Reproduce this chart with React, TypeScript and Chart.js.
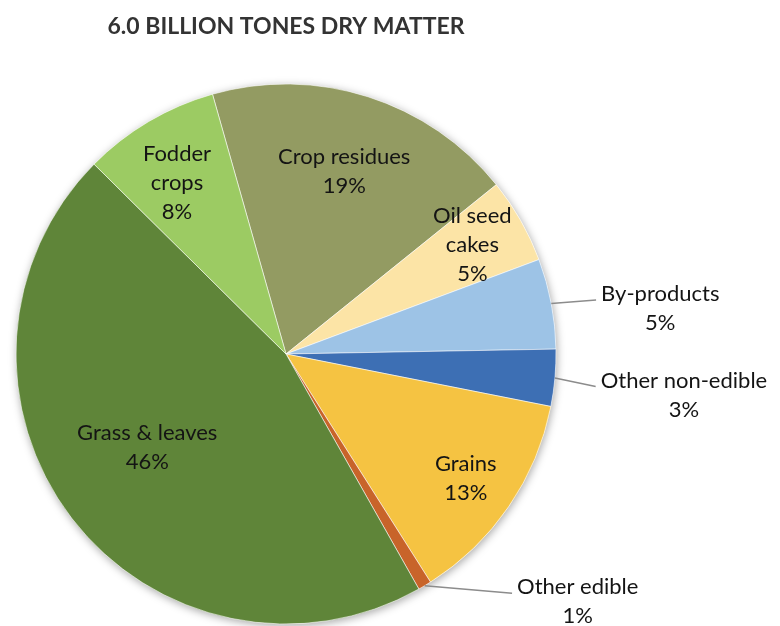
import React, { useEffect, useRef } from "react";
import { Chart, registerables } from "chart.js";

Chart.register(...registerables);

// ---- data ----
const titleText = "6.0 BILLION TONES DRY MATTER";
const categories = [
  "Crop residues",
  "Oil seed cakes",
  "By-products",
  "Other non-edible",
  "Grains",
  "Other edible",
  "Grass & leaves",
  "Fodder crops",
];
const shares = [18.6, 5.1, 5.4, 3.4, 12.9, 0.8, 45.6, 8.2];
const sliceColors = [
  "#939B62",
  "#FCE4A6",
  "#9DC3E6",
  "#3D6FB4",
  "#F5C342",
  "#C8642A",
  "#5F8539",
  "#9CCB63",
];

// ---- label layout (style only) ----
type LabelLayout =
  | { mode: "in"; lines: string[]; f: number; da: number }
  | { mode: "out"; lines: string[]; dx: number; dy: number };

const labelLayout: LabelLayout[] = [
  { mode: "in", lines: ["Crop residues"], f: 0.71, da: 0 },
  { mode: "in", lines: ["Oil seed", "cakes"], f: 0.8, da: -0.7 },
  { mode: "out", lines: ["By-products"], dx: 109, dy: 5 },
  { mode: "out", lines: ["Other non-edible"], dx: 129, dy: 17 },
  { mode: "in", lines: ["Grains"], f: 0.81, da: 0.3 },
  { mode: "out", lines: ["Other edible"], dx: 153, dy: 16 },
  { mode: "in", lines: ["Grass & leaves"], f: 0.62, da: 3.4 },
  { mode: "in", lines: ["Fodder", "crops"], f: 0.75, da: -2 },
];

const FONT_FAMILY = "Lato, 'Open Sans', sans-serif";
const LINE_H = 29;

const labelPlugin = {
  id: "pieLabels",
  beforeDatasetsDraw(chart: any) {
    const meta = chart.getDatasetMeta(0);
    const arc = meta.data[0];
    if (!arc) return;
    const ctx = chart.ctx;
    ctx.save();
    ctx.shadowColor = "rgba(0,0,0,0.35)";
    ctx.shadowBlur = 9;
    ctx.shadowOffsetX = 1;
    ctx.shadowOffsetY = 2;
    ctx.fillStyle = "#ffffff";
    ctx.beginPath();
    ctx.arc(arc.x, arc.y, arc.outerRadius, 0, Math.PI * 2);
    ctx.fill();
    ctx.restore();
  },
  afterDraw(chart: any) {
    const ctx = chart.ctx;
    const meta = chart.getDatasetMeta(0);
    const values = chart.data.datasets[0].data as number[];
    const ca = chart.chartArea;

    // title
    ctx.save();
    ctx.fillStyle = "#333333";
    ctx.font = `bold 23px ${FONT_FAMILY}`;
    ctx.textAlign = "center";
    ctx.textBaseline = "middle";
    ctx.fillText(titleText, (ca.left + ca.right) / 2, 27);
    ctx.restore();

    ctx.save();
    ctx.font = `22px ${FONT_FAMILY}`;
    ctx.textAlign = "center";
    ctx.textBaseline = "middle";
    meta.data.forEach((el: any, i: number) => {
      const lay = labelLayout[i];
      const lines = [...lay.lines, Math.round(values[i]) + "%"];
      const mid = (el.startAngle + el.endAngle) / 2;
      let cx: number, cy: number;
      if (lay.mode === "in") {
        const a = mid + (lay.da * Math.PI) / 180;
        cx = el.x + Math.cos(a) * el.outerRadius * lay.f;
        cy = el.y + Math.sin(a) * el.outerRadius * lay.f;
      } else {
        const ex = el.x + Math.cos(mid) * el.outerRadius;
        const ey = el.y + Math.sin(mid) * el.outerRadius;
        cx = ex + lay.dx;
        cy = ey + lay.dy;
        const firstY = cy - ((lines.length - 1) * LINE_H) / 2;
        const w = ctx.measureText(lines[0]).width;
        const lx = cx - w / 2 - 5;
        const ly = firstY + 6;
        ctx.strokeStyle = "#8c8c8c";
        ctx.lineWidth = 1.5;
        ctx.beginPath();
        ctx.moveTo(ex, ey);
        ctx.lineTo(lx, ly);
        ctx.stroke();
      }
      const startY = cy - ((lines.length - 1) * LINE_H) / 2;
      ctx.fillStyle = "#141414";
      lines.forEach((t, k) => ctx.fillText(t, cx, startY + k * LINE_H));
    });
    ctx.restore();
  },
};

export default function App() {
  const ref = useRef<HTMLCanvasElement | null>(null);
  useEffect(() => {
    if (!ref.current) return;
    const chart = new Chart(ref.current, {
      type: "pie",
      data: {
        labels: categories,
        datasets: [
          {
            data: shares,
            backgroundColor: sliceColors,
            borderColor: "rgba(255,255,255,0.55)",
            borderWidth: 1,
            radius: 270,
            clip: false as any,
          } as any,
        ],
      },
      options: {
        responsive: false,
        animation: false,
        rotation: -15.8,
        layout: { padding: { top: 82, bottom: 0, left: 0, right: 208 } },
        plugins: {
          legend: { display: false },
          tooltip: { enabled: false },
          title: { display: false },
        },
      },
      plugins: [labelPlugin],
    });
    return () => chart.destroy();
  }, []);
  return (
    <div
      style={{
        position: "fixed",
        left: 0,
        top: 0,
        width: 780,
        height: 626,
        background: "#ffffff",
      }}
    >
      <canvas ref={ref} width={780} height={626} />
    </div>
  );
}
